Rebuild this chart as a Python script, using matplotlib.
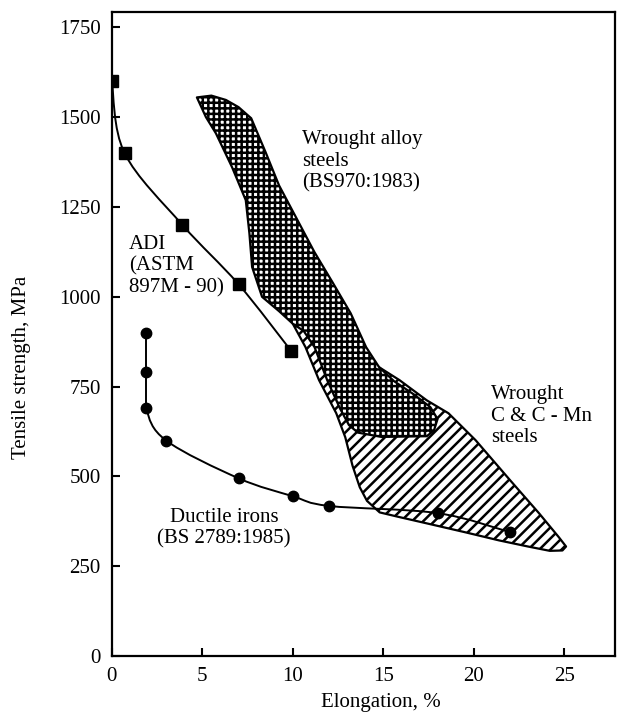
"""
Tensile strength vs elongation: ADI, ductile irons and wrought steels.
"""
import numpy as np
import matplotlib
matplotlib.use("Agg")
import matplotlib.pyplot as plt
from matplotlib.path import Path
from matplotlib.patches import PathPatch, Polygon

plt.rcParams['font.family'] = ['Liberation Serif', 'DejaVu Serif']
plt.rcParams['hatch.linewidth'] = 1.8

# ADI (ASTM 897M-90) grades
adi_elong = [0.0, 0.7, 3.9, 7.0, 9.9]
adi_uts = [1600, 1400, 1200, 1035, 850]

# ductile irons (BS 2789:1985)
di_elong = [1.9, 1.9, 1.9, 3.0, 7.0, 10.0, 12.0, 18.0, 22.0]
di_uts = [900, 790, 690, 600, 495, 445, 418, 398, 345]

# wrought C & C-Mn steels band outline
cmn_elong = [10.0, 10.7, 11.45, 12.4, 12.9, 13.3, 13.7, 14.1, 14.8, 15.8,
             17.7, 19.5, 21.4, 23.0, 24.2, 24.9, 25.1, 24.7, 23.6, 22.0,
             20.1, 18.6, 17.4, 15.9, 14.77, 13.0, 11.0]
cmn_uts = [925, 860, 768, 676, 609, 530, 470, 432, 400, 388,
           366, 345, 322, 305, 293, 294, 305, 331, 398, 490,
           601, 676, 712, 768, 804, 880, 920]

# wrought alloy steels band outline
alloy_elong = [4.7, 5.5, 6.3, 7.0, 7.7, 8.5, 9.24, 10.2, 11.2, 12.2,
               13.2, 14.05, 14.77, 15.6, 16.7, 17.6, 18.0, 17.8, 17.4, 14.9,
               13.6, 13.1, 12.6, 11.9, 11.2, 10.6, 10.0, 9.24, 8.3, 7.75,
               7.6, 7.4, 6.64, 5.75, 5.2]
alloy_uts = [1555, 1560, 1548, 1528, 1497, 1402, 1310, 1219, 1124, 1040,
             954, 860, 804, 765, 728, 693, 660, 628, 612, 610,
             622, 643, 690, 768, 860, 905, 925, 960, 1000, 1083,
             1177, 1269, 1361, 1455, 1500]


def smooth_path(xs, ys, start=0):
    # catmull-rom through the points, as cubic bezier segments
    p = np.column_stack([xs, ys]).astype(float)
    n = len(p)
    verts = [p[start]]
    codes = [Path.MOVETO]
    for i in range(start, n - 1):
        p0 = p[i - 1] if i > 0 else p[i]
        p3 = p[i + 2] if i + 2 < n else p[i + 1]
        c1 = p[i] + (p[i + 1] - p0) / 6.0
        c2 = p[i + 1] - (p3 - p[i]) / 6.0
        verts += [c1, c2, p[i + 1]]
        codes += [Path.CURVE4] * 3
    return Path(verts, codes)


fig = plt.figure(figsize=(6.18, 7.21), dpi=100)
ax = fig.add_axes([0.181, 0.090, 0.814, 0.893])

cmn = Polygon(np.column_stack([cmn_elong, cmn_uts]), closed=True,
              facecolor='white', edgecolor='black', lw=1.6, hatch='///',
              joinstyle='round', zorder=1)
ax.add_patch(cmn)
alloy = Polygon(np.column_stack([alloy_elong, alloy_uts]), closed=True,
                facecolor='white', edgecolor='black', lw=1.6, hatch='+++',
                joinstyle='round', zorder=2)
ax.add_patch(alloy)

# ADI curve
ax.add_patch(PathPatch(smooth_path(adi_elong, adi_uts), fill=False,
                       lw=1.4, color='black', zorder=3))
ax.plot(adi_elong, adi_uts, 's', color='black', ms=8.5, zorder=4)

# ductile irons: straight drop, then curve
ax.plot(di_elong[:3], di_uts[:3], color='black', lw=1.4, zorder=3)
ax.add_patch(PathPatch(smooth_path(di_elong, di_uts, start=2), fill=False,
                       lw=1.4, color='black', zorder=3))
ax.plot(di_elong, di_uts, 'o', color='black', ms=7.5, zorder=4)

fs = 15
ls = 1.2
ax.text(10.5, 1377, 'Wrought alloy\nsteels\n(BS970:1983)', fontsize=fs,
        ha='left', va='center', linespacing=ls)
ax.text(0.95, 1085, 'ADI\n(ASTM\n897M - 90)', fontsize=fs,
        ha='left', va='center', linespacing=ls)
ax.text(20.96, 668, 'Wrought\nC & C - Mn\nsteels', fontsize=fs,
        ha='left', va='center', linespacing=ls)
ax.text(6.2, 356, 'Ductile irons\n(BS 2789:1985)', fontsize=fs,
        ha='center', va='center', linespacing=ls)

ax.set_xlim(0, 27.8)
ax.set_ylim(0, 1792)
ax.set_xticks([0, 5, 10, 15, 20, 25])
ax.set_yticks([0, 250, 500, 750, 1000, 1250, 1500, 1750])
ax.tick_params(direction='in', length=6, width=1.5, labelsize=fs, pad=8)
for s in ax.spines.values():
    s.set_linewidth(1.6)

ax.set_xlabel('Elongation, %', fontsize=fs)
ax.set_ylabel('Tensile strength, MPa', fontsize=fs)
ax.xaxis.set_label_coords(0.535, -0.058)
ax.yaxis.set_label_coords(-0.16, 0.449)

fig.savefig('out.png', dpi=100)
